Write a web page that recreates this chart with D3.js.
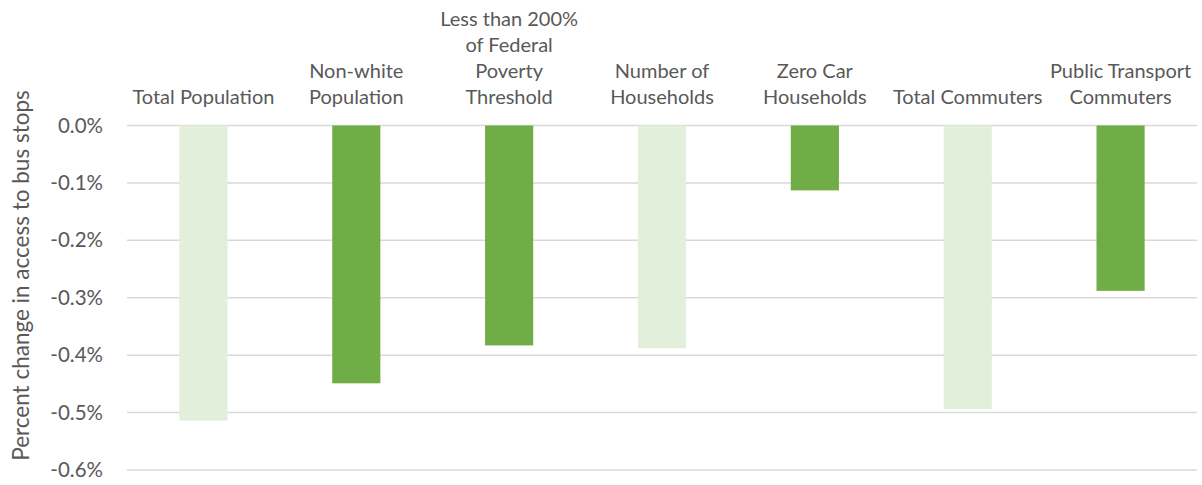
<!DOCTYPE html>
<html>
<head>
<meta charset="utf-8">
<script src="https://cdn.jsdelivr.net/npm/d3@7"></script>
<style>
  body { margin: 0; background: #fff; }
  text { font-family: Lato, "Noto Sans", sans-serif; fill: #595959; }
</style>
</head>
<body>
<svg id="chart" width="1202" height="485"></svg>
<script>
// category labels, one array of lines per bar
var categories = [
  ["Total Population"],
  ["Non-white", "Population"],
  ["Less than 200%", "of Federal", "Poverty", "Threshold"],
  ["Number of", "Households"],
  ["Zero Car", "Households"],
  ["Total Commuters"],
  ["Public Transport", "Commuters"]
];
// percent change in access to bus stops
var values = [-0.514, -0.449, -0.383, -0.388, -0.113, -0.494, -0.288];
// totals are drawn light, subgroups dark
var isTotal = [true, false, false, true, false, true, false];
var yTicks = [0, -0.1, -0.2, -0.3, -0.4, -0.5, -0.6];

var svg = d3.select("#chart");
var plotLeft = 127, plotRight = 1197, plotTop = 125.5, plotBottom = 470;

var x = d3.scaleBand()
  .domain(d3.range(categories.length))
  .range([plotLeft, plotRight])
  .paddingInner(0.685)
  .paddingOuter(0.3425);

var y = d3.scaleLinear()
  .domain([0, -0.6])
  .range([plotTop, plotBottom]);

// gridlines
svg.append("g")
  .selectAll("line")
  .data(yTicks)
  .join("line")
  .attr("x1", plotLeft)
  .attr("x2", plotRight)
  .attr("y1", function (d) { return y(d); })
  .attr("y2", function (d) { return y(d); })
  .attr("stroke", "#d9d9d9")
  .attr("stroke-width", 1.5);

// tick labels, plain hyphen for the sign
var yAxis = d3.axisLeft(y)
  .tickValues(yTicks)
  .tickSize(0)
  .tickPadding(0)
  .tickFormat(function (d) { return (d < 0 ? "-" : "") + Math.abs(d).toFixed(1) + "%"; });

var ag = svg.append("g")
  .attr("transform", "translate(103,0)")
  .call(yAxis);
ag.select(".domain").remove();
ag.selectAll("text")
  .attr("font-size", "20.5px")
  .attr("fill", "#595959")
  .style("font-family", "Lato, 'Noto Sans', sans-serif");

// bars
svg.append("g")
  .selectAll("rect")
  .data(values)
  .join("rect")
  .attr("x", function (d, i) { return x(i); })
  .attr("y", y(0))
  .attr("width", x.bandwidth())
  .attr("height", function (d) { return y(d) - y(0); })
  .attr("fill", function (d, i) { return isTotal[i] ? "#e2efda" : "#70ad47"; });

// category labels above the zero line
var lineH = 26;
categories.forEach(function (lines, i) {
  var cx = x(i) + x.bandwidth() / 2;
  var t = svg.append("text")
    .attr("text-anchor", "middle")
    .attr("font-size", "20px");
  lines.forEach(function (s, k) {
    t.append("tspan")
      .attr("x", cx)
      .attr("y", 104 - (lines.length - 1 - k) * lineH)
      .text(s);
  });
});

// axis title
svg.append("text")
  .attr("transform", "translate(28.5,275.5) rotate(-90)")
  .attr("text-anchor", "middle")
  .attr("font-size", "22.5px")
  .text("Percent change in access to bus stops");
</script>
</body>
</html>
